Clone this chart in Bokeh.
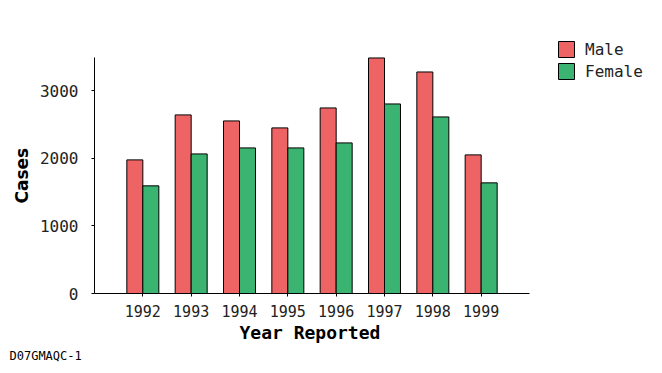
from bokeh.plotting import figure
from bokeh.models import ColumnDataSource, FixedTicker, Range1d, Legend, LegendItem, Title
from bokeh.transform import dodge
from bokeh.embed import file_html
from bokeh.resources import INLINE

years = [1992, 1993, 1994, 1995, 1996, 1997, 1998, 1999]
male = [1976, 2641, 2552, 2449, 2744, 3483, 3276, 2050]
female = [1592, 2064, 2153, 2153, 2227, 2803, 2611, 1636]
y_ticks = [0, 1000, 2000, 3000]
series = ["Male", "Female"]
x_title = "Year Reported"
y_title = "Cases"
footnote = "D07GMAQC-1"

src = ColumnDataSource(dict(year=years, male=male, female=female))

MONO = "DejaVu Sans Mono"
RED = "#EE6464"
GREEN = "#3BB371"

# axis extents (data) and their pixel placement on the 662x373 canvas
X0, X1 = 1991, 2000
Y0, Y1 = 0, 3490
W, H = 662, 373
ax_left, ax_right = 94, 529      # pixel x of X0, X1
ax_bottom, ax_top = 293, 57      # pixel y of Y0, Y1
frame_top, frame_right = 20, W   # frame extends so the legend lies inside it

x_end = X0 + (X1 - X0) * (frame_right - ax_left) / (ax_right - ax_left)
y_end = Y0 + (Y1 - Y0) * (ax_bottom - frame_top) / (ax_bottom - ax_top)

p = figure(width=W, height=H, output_backend="svg", toolbar_location=None,
           x_range=Range1d(X0, x_end), y_range=Range1d(Y0, y_end),
           min_border_left=ax_left, min_border_right=W - frame_right,
           min_border_top=frame_top, min_border_bottom=H - ax_bottom)
p.outline_line_color = None
p.xgrid.visible = False
p.ygrid.visible = False

bw = 0.331
r_m = p.vbar(x=dodge("year", -bw / 2), top="male", width=bw, source=src,
             fill_color=RED, line_color="black", line_width=1)
r_f = p.vbar(x=dodge("year", bw / 2), top="female", width=bw, source=src,
             fill_color=GREEN, line_color="black", line_width=1)

p.xaxis.ticker = FixedTicker(ticks=years)
p.yaxis.ticker = FixedTicker(ticks=y_ticks)
p.xaxis.bounds = (X0, X1)
p.yaxis.bounds = (Y0, Y1)
p.xaxis.minor_tick_line_color = None
p.yaxis.minor_tick_line_color = None

for ax in (p.xaxis, p.yaxis):
    ax.axis_line_color = "black"
    ax.major_tick_line_color = "black"
    ax.major_tick_in = 0
    ax.major_tick_out = 3
    ax.major_label_text_font = MONO
    ax.major_label_text_color = "#222222"

p.xaxis.major_label_text_font_size = "15px"
p.yaxis.major_label_text_font_size = "16px"
p.yaxis.major_label_standoff = 13
p.xaxis.major_label_standoff = 8

# axis titles, centred on the axis lines (not on the extended frame)
xt = Title(text=x_title, align="left", offset=145, standoff=0,
           text_font=MONO, text_font_size="18px", text_font_style="bold",
           text_color="black")
p.add_layout(xt, "below")

yt = Title(text=y_title, align="left", offset=90, standoff=10,
           text_font="DejaVu Sans", text_font_size="17px", text_font_style="bold",
           text_color="black")
p.add_layout(yt, "left")

note = Title(text=footnote, align="left", offset=-85, standoff=9,
             text_font=MONO, text_font_size="12px", text_font_style="normal",
             text_color="black")
p.add_layout(note, "below")

legend = Legend(items=[LegendItem(label=series[0], renderers=[r_m]),
                       LegendItem(label=series[1], renderers=[r_f])],
                location=(556 - ax_left, ax_bottom - 81), orientation="vertical")
legend.margin = 0
legend.padding = 0
legend.spacing = 2
legend.glyph_width = 20
legend.glyph_height = 20
legend.label_standoff = 9
legend.label_text_font = MONO
legend.label_text_font_size = "16px"
legend.label_text_color = "#222222"
legend.border_line_alpha = 0
legend.background_fill_alpha = 0
p.add_layout(legend, "center")

open("out.html", "w").write(file_html(p, INLINE))
